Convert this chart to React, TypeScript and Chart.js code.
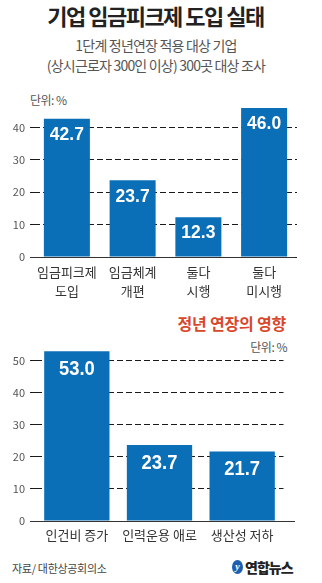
import React, { useEffect, useRef } from "react";
import { Chart, registerables } from "chart.js";

Chart.register(...registerables);

// ---- Data ----
const TITLE = "기업 임금피크제 도입 실태";
const SUB1 = "1단계 정년연장 적용 대상 기업";
const SUB2 = "(상시근로자 300인 이상) 300곳 대상 조사";
const UNIT = "단위: %";

const C1_LABELS = [["임금피크제", "도입"], ["임금체계", "개편"], ["둘다", "시행"], ["둘다", "미시행"]];
const C1_VALUES = [42.7, 23.7, 12.3, 46.0];
const C1_TICKS = [0, 10, 20, 30, 40];

const C2_TITLE = "정년 연장의 영향";
const C2_LABELS = ["인건비 증가", "인력운용 애로", "생산성 저하"];
const C2_VALUES = [53.0, 23.7, 21.7];
const C2_TICKS = [0, 10, 20, 30, 40, 50];

const SOURCE = "자료/ 대한상공회의소";
const LOGO = "연합뉴스";

const BAR_COLOR = "#0b6fb8";
const KR = '"Noto Sans CJK KR", "Noto Sans", sans-serif';

function labelPlugin(fontSize: number, offset: number, sx: number) {
  return {
    id: "valueLabels",
    afterDatasetsDraw(chart: any) {
      const ctx = chart.ctx;
      const meta = chart.getDatasetMeta(0);
      const data = chart.data.datasets[0].data;
      ctx.save();
      ctx.fillStyle = "#ffffff";
      ctx.font = `bold ${fontSize}px "Liberation Sans", Arial, sans-serif`;
      ctx.textAlign = "center";
      ctx.textBaseline = "middle";
      meta.data.forEach((bar: any, i: number) => {
        ctx.save();
        ctx.translate(bar.x, bar.y + offset);
        ctx.scale(sx, 1);
        ctx.fillText(Number(data[i]).toFixed(1), 0, 0);
        ctx.restore();
      });
      ctx.restore();
    },
  };
}

function baselinePlugin(x0: number, x1: number) {
  return {
    id: "baseline",
    afterDatasetsDraw(chart: any) {
      const ctx = chart.ctx;
      const y = Math.round(chart.scales.y.getPixelForValue(0)) + 0.5;
      ctx.save();
      ctx.strokeStyle = "#333333";
      ctx.lineWidth = 1.2;
      ctx.beginPath();
      ctx.moveTo(x0, y);
      ctx.lineTo(x1, y);
      ctx.stroke();
      ctx.restore();
    },
  };
}

function makeConfig(p: {
  labels: any[];
  values: number[];
  ticks: number[];
  max: number;
  padding: any;
  tickLength: number;
  xHeight: number;
  xPad: number;
  barPct: number;
  plugins: any[];
}) {
  return {
    type: "bar",
    data: {
      labels: p.labels,
      datasets: [
        {
          data: p.values,
          backgroundColor: BAR_COLOR,
          borderWidth: 0,
          categoryPercentage: 1,
          barPercentage: p.barPct,
        },
      ],
    },
    options: {
      responsive: false,
      animation: false,
      devicePixelRatio: 1,
      layout: { padding: p.padding },
      plugins: { legend: { display: false }, tooltip: { enabled: false }, title: { display: false } },
      scales: {
        x: {
          grid: { display: false, drawTicks: false },
          border: { display: false },
          ticks: {
            color: "#333333",
            font: { family: KR, size: 13, lineHeight: 1.45 },
            padding: p.xPad,
            maxRotation: 0,
            autoSkip: false,
          },
          afterFit: (s: any) => {
            s.height = p.xHeight;
          },
        },
        y: {
          min: 0,
          max: p.max,
          afterBuildTicks: (s: any) => {
            s.ticks = p.ticks.map((v) => ({ value: v }));
          },
          afterFit: (s: any) => {
            s.width = 30;
          },
          grid: {
            color: "#1a1a1a",
            lineWidth: 1,
            drawTicks: p.tickLength > 0,
            tickLength: p.tickLength,
            tickColor: "#1a1a1a",
            tickBorderDash: [6, 3],
          },
          border: { display: false, dash: [6, 3] },
          ticks: {
            color: "#555555",
            font: { family: KR, size: 11 },
            padding: 5,
          },
        },
      },
    },
    plugins: p.plugins,
  };
}

function BarCanvas({ config, height }: { config: any; height: number }) {
  const ref = useRef<HTMLCanvasElement | null>(null);
  useEffect(() => {
    if (!ref.current) return;
    const chart = new Chart(ref.current, config);
    return () => chart.destroy();
  }, []);
  return <canvas ref={ref} width={322} height={height} style={{ display: "block", width: 322, height }} />;
}

export default function App() {
  const cfg1 = makeConfig({
    labels: C1_LABELS,
    values: C1_VALUES,
    ticks: C1_TICKS,
    max: 48,
    padding: { top: 11, right: 25, left: 4, bottom: 0 },
    tickLength: 4,
    xHeight: 53,
    xPad: 6,
    barPct: 0.7,
    plugins: [baselinePlugin(30, 295), labelPlugin(19, 16, 0.92)],
  });
  const cfg2 = makeConfig({
    labels: C2_LABELS,
    values: C2_VALUES,
    ticks: C2_TICKS,
    max: 56,
    padding: { top: 9.6, right: 38.5, left: 5.5, bottom: 0 },
    tickLength: 5.5,
    xHeight: 29,
    xPad: 5,
    barPct: 0.79,
    plugins: [baselinePlugin(30, 295), labelPlugin(20, 18.5, 0.92)],
  });

  const abs = (s: any) => ({ position: "absolute", ...s });

  return (
    <div
      style={{
        position: "absolute",
        left: 0,
        top: 0,
        width: 322,
        height: 583,
        background: "#ffffff",
        overflow: "hidden",
        fontFamily: KR,
      }}
    >
      <div
        style={abs({
          left: 0,
          top: 0,
          width: 311,
          lineHeight: "30px",
          textAlign: "center",
          fontSize: 22,
          fontWeight: 700,
          letterSpacing: -1.5,
          color: "#222222",
          whiteSpace: "nowrap",
        })}
      >
        {TITLE}
      </div>
      <div
        style={abs({
          left: 0,
          top: 35,
          width: 312,
          lineHeight: "20px",
          textAlign: "center",
          fontSize: 14,
          letterSpacing: -0.8,
          color: "#555555",
          whiteSpace: "nowrap",
        })}
      >
        <div>{SUB1}</div>
        <div>{SUB2}</div>
      </div>

      <div style={abs({ left: 30, top: 92, lineHeight: "16px", fontSize: 12, color: "#555555", letterSpacing: -0.5 })}>
        {UNIT}
      </div>

      <div style={abs({ left: 0, top: 90 })}>
        <BarCanvas config={cfg1} height={220} />
      </div>

      <div
        style={abs({
          right: 36,
          top: 312,
          lineHeight: "22px",
          fontSize: 16,
          fontWeight: 700,
          color: "#d9472b",
          letterSpacing: -0.2,
          whiteSpace: "nowrap",
        })}
      >
        {C2_TITLE}
      </div>
      <div
        style={abs({ right: 35, top: 339, lineHeight: "16px", fontSize: 12, color: "#555555", letterSpacing: -0.5 })}
      >
        {UNIT}
      </div>

      <div style={abs({ left: 0, top: 330 })}>
        <BarCanvas config={cfg2} height={220} />
      </div>

      <div style={abs({ left: 12, top: 560, lineHeight: "16px", fontSize: 11, color: "#444444", letterSpacing: -0.3 })}>
        {SOURCE}
      </div>
      <div style={abs({ left: 232, top: 558, height: 18, display: "flex", alignItems: "center", whiteSpace: "nowrap" })}>
        <span
          style={{
            display: "inline-block",
            width: 11,
            height: 14,
            borderRadius: "50%",
            background: "#1f5fb0",
            color: "#ffffff",
            fontSize: 10,
            fontStyle: "italic",
            fontWeight: 700,
            lineHeight: "14px",
            textAlign: "center",
            marginRight: 2,
            fontFamily: '"Liberation Serif", serif',
          }}
        >
          y
        </span>
        <span style={{ fontSize: 14, fontWeight: 900, color: "#222222", letterSpacing: -1 }}>{LOGO}</span>
      </div>
    </div>
  );
}
